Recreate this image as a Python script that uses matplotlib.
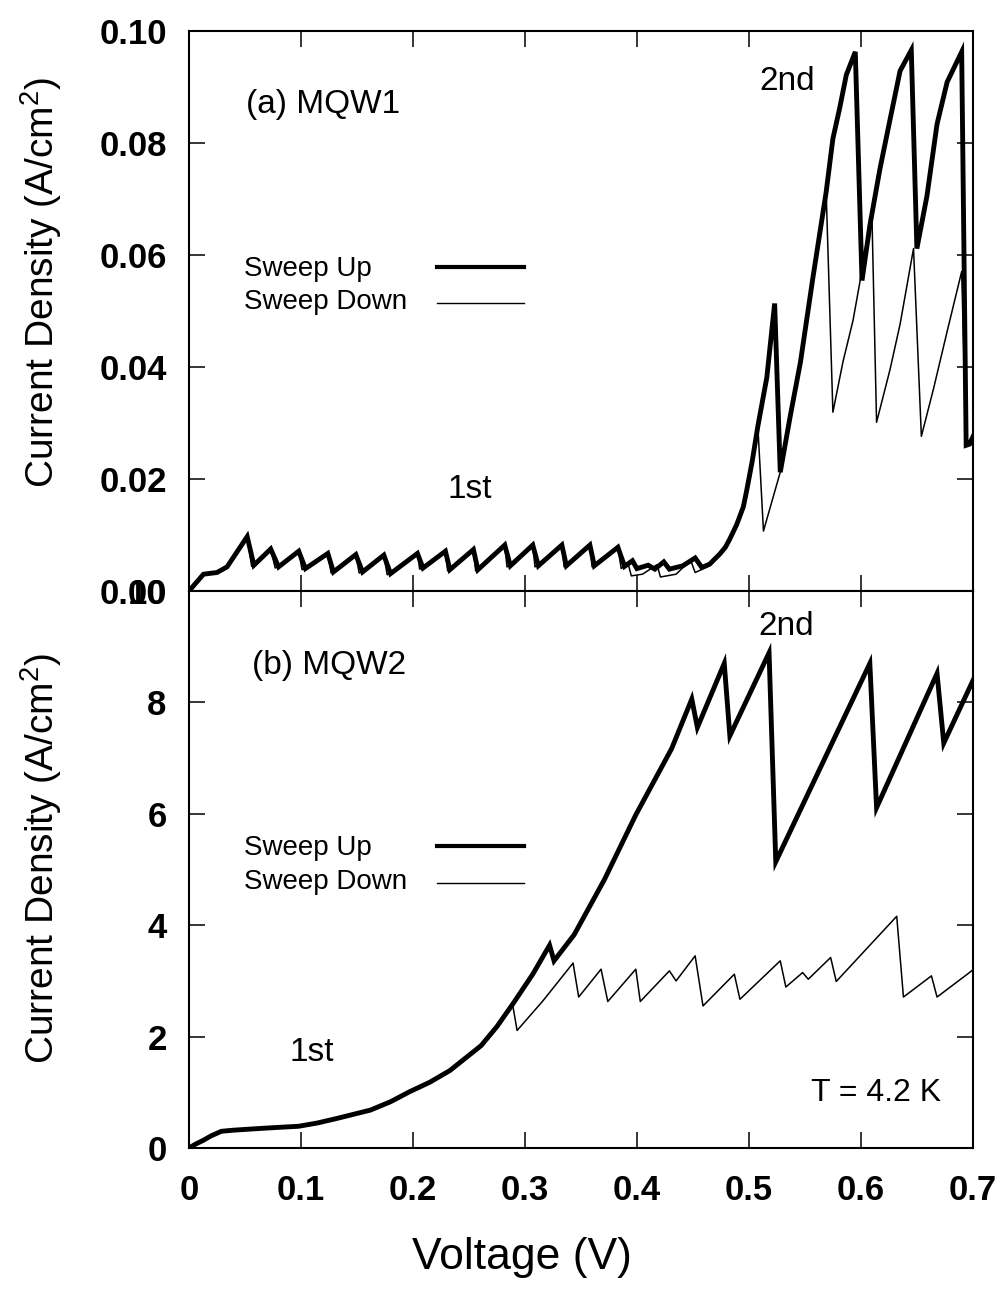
import matplotlib
matplotlib.use("Agg")
import matplotlib.pyplot as plt
from matplotlib.lines import Line2D

plt.rcParams['font.family'] = ['Liberation Sans', 'DejaVu Sans']
plt.rcParams['mathtext.fontset'] = 'custom'
plt.rcParams['mathtext.rm'] = 'Liberation Sans'
plt.rcParams['mathtext.it'] = 'Liberation Sans'

# (a) MQW1, sweep up (thick)
up1_v = [0, 0.013, 0.025, 0.034, 0.043, 0.052, 0.058, 0.073, 0.080, 0.098, 0.104,
         0.124, 0.129, 0.149, 0.155, 0.174, 0.180, 0.204, 0.209, 0.229, 0.233,
         0.254, 0.258, 0.282, 0.287, 0.307, 0.312, 0.333, 0.337, 0.358, 0.362,
         0.383, 0.389, 0.396, 0.400, 0.410, 0.416, 0.424, 0.429, 0.441, 0.452,
         0.458, 0.465, 0.474, 0.479, 0.483, 0.489, 0.495, 0.498, 0.503, 0.508,
         0.516, 0.523, 0.528, 0.537, 0.546, 0.557, 0.569, 0.575, 0.581, 0.587,
         0.595, 0.601, 0.608, 0.617, 0.626, 0.635, 0.645, 0.650, 0.659, 0.668,
         0.677, 0.690, 0.694, 0.697, 0.700]
up1_j = [0, 0.0030, 0.0033, 0.0043, 0.0070, 0.0097, 0.0046, 0.0075, 0.0043, 0.0071, 0.0040,
         0.0067, 0.0034, 0.0065, 0.0034, 0.0064, 0.0031, 0.0067, 0.0041, 0.0071, 0.0038,
         0.0074, 0.0038, 0.0082, 0.0045, 0.0082, 0.0045, 0.0082, 0.0045, 0.0082, 0.0045,
         0.0078, 0.0044, 0.0054, 0.0040, 0.0046, 0.0039, 0.0052, 0.0039, 0.0045, 0.0059,
         0.0042, 0.0048, 0.0066, 0.0078, 0.0093, 0.0118, 0.0150, 0.0179, 0.0232, 0.0294,
         0.0381, 0.0513, 0.0212, 0.0313, 0.0408, 0.0557, 0.0712, 0.0807, 0.0861, 0.0921,
         0.0962, 0.0554, 0.0652, 0.0753, 0.0841, 0.0928, 0.0965, 0.0611, 0.0705, 0.0833,
         0.0908, 0.0962, 0.0260, 0.0262, 0.0275]

# (a) MQW1, sweep down (thin)
dn1_v = [0, 0.013, 0.025, 0.034, 0.043, 0.052, 0.056, 0.073, 0.077, 0.098, 0.101,
         0.124, 0.127, 0.149, 0.152, 0.174, 0.177, 0.204, 0.206, 0.229, 0.231,
         0.254, 0.256, 0.282, 0.284, 0.307, 0.309, 0.333, 0.335, 0.358, 0.360,
         0.383, 0.386, 0.392, 0.395, 0.405, 0.418, 0.421, 0.435, 0.448, 0.452,
         0.465, 0.474, 0.479, 0.483, 0.489, 0.495, 0.498, 0.503, 0.508, 0.513,
         0.528, 0.537, 0.546, 0.557, 0.569, 0.575, 0.584, 0.593, 0.599, 0.605,
         0.610, 0.614, 0.626, 0.635, 0.647, 0.654, 0.665, 0.677, 0.690, 0.694,
         0.697, 0.700]
dn1_j = [0, 0.0030, 0.0033, 0.0043, 0.0070, 0.0097, 0.0044, 0.0075, 0.0041, 0.0071, 0.0038,
         0.0067, 0.0032, 0.0065, 0.0032, 0.0064, 0.0029, 0.0067, 0.0039, 0.0071, 0.0036,
         0.0074, 0.0036, 0.0082, 0.0043, 0.0082, 0.0043, 0.0082, 0.0043, 0.0082, 0.0043,
         0.0078, 0.0040, 0.0050, 0.0027, 0.0030, 0.0047, 0.0025, 0.0030, 0.0055, 0.0033,
         0.0045, 0.0066, 0.0078, 0.0093, 0.0118, 0.0150, 0.0179, 0.0232, 0.0294, 0.0107,
         0.0212, 0.0313, 0.0408, 0.0557, 0.0712, 0.0319, 0.0409, 0.0483, 0.0550, 0.0624,
         0.0658, 0.0301, 0.0395, 0.0476, 0.0611, 0.0276, 0.0362, 0.0463, 0.0570, 0.0260,
         0.0262, 0.0275]

# (b) MQW2, sweep up (thick)
up2_v = [0, 0.006, 0.013, 0.020, 0.029, 0.040, 0.063, 0.080, 0.098, 0.115, 0.132,
         0.162, 0.180, 0.197, 0.215, 0.233, 0.261, 0.275, 0.289, 0.298, 0.307,
         0.322, 0.326, 0.344, 0.371, 0.399, 0.431, 0.449, 0.454, 0.478, 0.483,
         0.518, 0.524, 0.608, 0.614, 0.668, 0.674, 0.700]
up2_j = [0, 0.07, 0.14, 0.22, 0.30, 0.32, 0.35, 0.37, 0.39, 0.45, 0.53,
         0.68, 0.83, 1.01, 1.18, 1.39, 1.84, 2.18, 2.58, 2.85, 3.12,
         3.64, 3.36, 3.83, 4.82, 5.98, 7.17, 8.06, 7.55, 8.70, 7.40,
         8.89, 5.14, 8.70, 6.11, 8.52, 7.27, 8.39]

# (b) MQW2, sweep down (thin)
dn2_v = [0, 0.006, 0.013, 0.020, 0.029, 0.040, 0.063, 0.080, 0.098, 0.115, 0.132,
         0.162, 0.180, 0.197, 0.215, 0.233, 0.261, 0.275, 0.289,
         0.293, 0.316, 0.343, 0.348, 0.368, 0.374, 0.399, 0.403, 0.429, 0.435,
         0.452, 0.459, 0.487, 0.492, 0.528, 0.533, 0.548, 0.553, 0.573, 0.578,
         0.632, 0.638, 0.663, 0.668, 0.697, 0.700]
dn2_j = [0, 0.07, 0.14, 0.22, 0.30, 0.32, 0.35, 0.37, 0.39, 0.45, 0.53,
         0.68, 0.83, 1.01, 1.18, 1.39, 1.84, 2.18, 2.58,
         2.11, 2.64, 3.32, 2.71, 3.21, 2.63, 3.21, 2.63, 3.18, 3.00,
         3.45, 2.55, 3.12, 2.67, 3.36, 2.89, 3.15, 3.03, 3.42, 2.99,
         4.16, 2.71, 3.09, 2.71, 3.15, 3.20]

x_ticks = [0, 0.1, 0.2, 0.3, 0.4, 0.5, 0.6, 0.7]
x_labels = ['0', '0.1', '0.2', '0.3', '0.4', '0.5', '0.6', '0.7']
y1_ticks = [0, 0.02, 0.04, 0.06, 0.08, 0.10]
y1_labels = ['0.00', '0.02', '0.04', '0.06', '0.08', '0.10']
y2_ticks = [0, 2, 4, 6, 8, 10]
y2_labels = ['0', '2', '4', '6', '8', '10']

THICK = 3.5
THIN = 1.1

fig = plt.figure(figsize=(10.04, 12.89), dpi=100)
left, right = 0.1882, 0.9690
ax1 = fig.add_axes([left, 0.5415, right - left, 0.9763 - 0.5415])
ax2 = fig.add_axes([left, 0.1094, right - left, 0.5415 - 0.1094])


def style(ax):
    for s in ax.spines.values():
        s.set_linewidth(1.5)
    ax.tick_params(direction='in', length=11.5, width=1.1, top=True, right=True,
                   labelsize=25, pad=16)
    ax.set_xlim(0, 0.7)
    ax.set_xticks(x_ticks)


def key(ax, y_up, y_dn):
    ax.text(0.07, y_up, 'Sweep Up', transform=ax.transAxes, fontsize=20, va='center')
    ax.text(0.07, y_dn, 'Sweep Down', transform=ax.transAxes, fontsize=20, va='center')
    ax.add_line(Line2D([0.317, 0.428], [y_up + 0.004, y_up + 0.004], transform=ax.transAxes,
                       color='black', lw=3.0))
    ax.add_line(Line2D([0.317, 0.428], [y_dn - 0.002, y_dn - 0.002], transform=ax.transAxes,
                       color='black', lw=1.0))


def ticklabels_bold(ax):
    for t in ax.get_xticklabels() + ax.get_yticklabels():
        t.set_fontweight('bold')


# top panel
ax1.plot(dn1_v, dn1_j, color='black', lw=THIN)
ax1.plot(up1_v, up1_j, color='black', lw=THICK, solid_joinstyle='miter')
style(ax1)
ax1.set_ylim(0, 0.10)
ax1.set_yticks(y1_ticks)
ax1.set_yticklabels(y1_labels)
ax1.tick_params(axis='x', labelbottom=False)
ax1.set_ylabel('Current Density (A/cm$^{2}$)', fontsize=28)
ax1.yaxis.set_label_coords(-0.16, 0.55)
ax1.text(0.073, 0.868, '(a) MQW1', transform=ax1.transAxes, fontsize=24, va='center')
ax1.text(0.728, 0.909, '2nd', transform=ax1.transAxes, fontsize=24, va='center')
ax1.text(0.358, 0.182, '1st', transform=ax1.transAxes, fontsize=24, va='center', ha='center')
key(ax1, 0.574, 0.515)
ticklabels_bold(ax1)

# bottom panel
ax2.plot(dn2_v, dn2_j, color='black', lw=THIN)
ax2.plot(up2_v, up2_j, color='black', lw=THICK, solid_joinstyle='miter')
style(ax2)
ax2.set_ylim(0, 10)
ax2.set_yticks(y2_ticks)
ax2.set_yticklabels(y2_labels)
ax2.set_xticklabels(x_labels)
ax2.tick_params(axis='x', pad=19)
ax2.set_ylabel('Current Density (A/cm$^{2}$)', fontsize=28)
ax2.yaxis.set_label_coords(-0.16, 0.52)
ax2.set_xlabel('Voltage (V)', fontsize=32)
ax2.xaxis.set_label_coords(0.425, -0.16)
ax2.text(0.080, 0.866, '(b) MQW2', transform=ax2.transAxes, fontsize=24, va='center')
ax2.text(0.726, 0.937, '2nd', transform=ax2.transAxes, fontsize=24, va='center')
ax2.text(0.157, 0.172, '1st', transform=ax2.transAxes, fontsize=24, va='center', ha='center')
ax2.text(0.960, 0.099, 'T = 4.2 K', transform=ax2.transAxes, fontsize=23, va='center', ha='right')
key(ax2, 0.538, 0.477)
ticklabels_bold(ax2)

fig.savefig('out.png', dpi=100)
